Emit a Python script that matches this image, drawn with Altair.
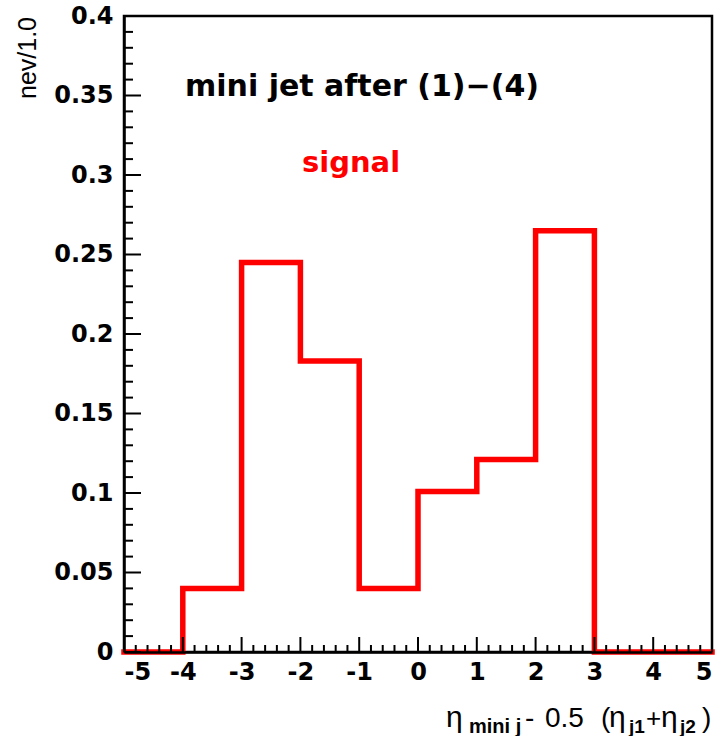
import altair as alt
import pandas as pd

# ---- data ----
bin_edges = [-5, -4, -3, -2, -1, 0, 1, 2, 3, 4, 5]
nev = [0.0, 0.040, 0.245, 0.183, 0.040, 0.101, 0.121, 0.265, 0.0, 0.0]

x_major = [-5, -4, -3, -2, -1, 0, 1, 2, 3, 4, 5]
y_major = [0, 0.05, 0.1, 0.15, 0.2, 0.25, 0.3, 0.35, 0.4]
x_minor = [round(-5 + 0.2 * i, 2) for i in range(51) if i % 5 != 0]
y_minor = [round(0.01 * i, 2) for i in range(41) if i % 5 != 0]

W, H = 588, 636
RED = "#ff0000"
FONT = "Liberation Sans"
TICKFONT = "DejaVu Sans"

step_df = pd.DataFrame({
    "x": bin_edges,
    "y": nev + [nev[-1]],
})

xscale = alt.Scale(domain=[-5, 5], nice=False, zero=False)
yscale = alt.Scale(domain=[0, 0.4], nice=False, zero=False)

hist = alt.Chart(step_df).mark_line(
    color=RED, strokeWidth=5.5, interpolate="step-after", strokeCap="square"
).encode(
    x=alt.X("x:Q", scale=xscale, title=None, axis=alt.Axis(
        values=x_major, title=None, tickSize=0, ticks=False, labelExpr="'' + datum.value",
        labelFont=TICKFONT, labelFontSize=24, labelFontWeight="bold", labelColor="black",
        labelPadding=8, domain=True, domainColor="black", domainWidth=2.5,
        grid=False, zindex=1)),
    y=alt.Y("y:Q", scale=yscale, title=None, axis=alt.Axis(
        values=y_major, title=None, tickSize=0, ticks=False, format="~g",
        labelFont=TICKFONT, labelFontSize=24, labelFontWeight="bold", labelColor="black",
        labelPadding=11, domain=True, domainColor="black", domainWidth=2.5,
        grid=False, zindex=1)),
)

def xticks(vals, length):
    return alt.Chart(pd.DataFrame({"x": vals})).mark_rule(
        color="black", strokeWidth=2
    ).encode(
        x=alt.X("x:Q", scale=xscale, title=None),
        y=alt.value(H), y2=alt.value(H - length),
    )

def yticks(vals, length):
    return alt.Chart(pd.DataFrame({"y": vals})).mark_rule(
        color="black", strokeWidth=2
    ).encode(
        y=alt.Y("y:Q", scale=yscale, title=None),
        x=alt.value(0), x2=alt.value(length),
    )

dummy = pd.DataFrame({"a": [0]})

def label(text, px, py, size, weight="normal", color="black", font=FONT,
          align="left", angle=0, baseline="alphabetic"):
    kw = dict(text=text, fontSize=size, fontWeight=weight, color=color,
              font=font, align=align, baseline=baseline)
    if angle:
        kw["angle"] = angle
    return alt.Chart(dummy).mark_text(**kw).encode(
        x=alt.value(px), y=alt.value(py))

L0, T0 = 124, 16  # plot origin in page pixels
BL, SB = 727 - T0, 733 - T0  # baselines of x-title text and subscripts
annotations = [
    label("mini jet after (1)\u2212(4)", 185 - L0, 96 - T0, 30, "bold", font="DejaVu Sans"),
    label("signal", 302 - L0, 172 - T0, 29, "bold", color=RED, font="DejaVu Sans"),
    # y title
    label("nev/1.0", 36 - L0, 1, 25, align="right", angle=270),
    # x title pieces
    label("\u03b7", 446 - L0, BL, 30),
    label("mini j", 469 - L0, SB, 20, "bold"),
    label("-", 525 - L0, BL, 28),
    label("0.5", 545 - L0, BL, 28),
    label("(", 601 - L0, BL, 28),
    label("\u03b7", 609 - L0, BL, 30),
    label("j1", 629 - L0, SB, 19, "bold"),
    label("+", 646 - L0, BL, 26),
    label("\u03b7", 661 - L0, BL, 30),
    label("j2", 680 - L0, SB, 19, "bold"),
    label(")", 702 - L0, BL, 28),
]

chart = alt.layer(
    hist,
    xticks(x_minor, 7), xticks(x_major, 15),
    yticks(y_minor, 9), yticks(y_major, 17),
    *annotations,
).properties(
    width=W, height=H,
    autosize=alt.AutoSizeParams(type="none"),
    padding={"left": L0, "top": T0, "right": 723 - L0 - W, "bottom": 736 - T0 - H},
    background="white",
).configure_view(
    stroke="black", strokeWidth=2.5,
)

chart.save("out.html", embed_options={"renderer": "svg", "actions": False})
